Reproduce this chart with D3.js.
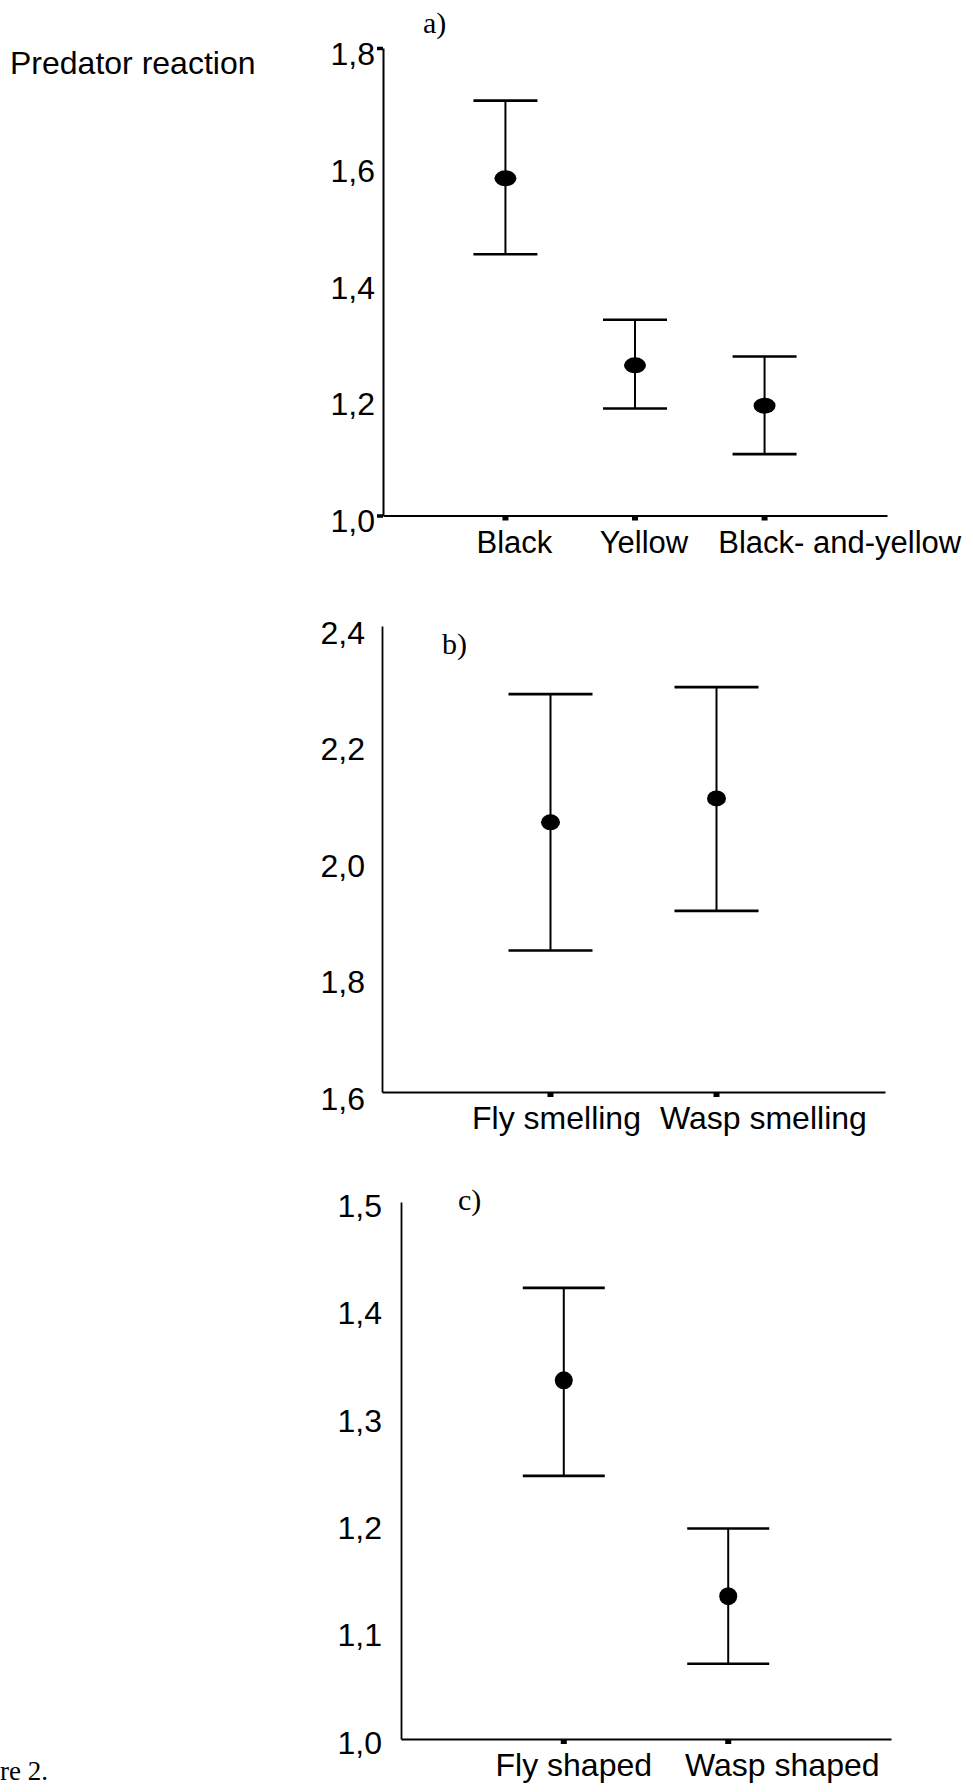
<!DOCTYPE html>
<html>
<head>
<meta charset="utf-8">
<script src="https://cdn.jsdelivr.net/npm/d3@7"></script>
<style>
  html, body { margin: 0; padding: 0; background: #fff; }
  svg { display: block; }
</style>
</head>
<body>
<div id="chart"></div>
<script>
// ---------- Data ----------
const panelACategories = ["Black", "Yellow", "Black- and-yellow"];
const panelAMean  = [1.577, 1.257, 1.188];
const panelALower = [1.447, 1.183, 1.105];
const panelAUpper = [1.710, 1.335, 1.272];
const panelATicks = [1.0, 1.2, 1.4, 1.6, 1.8];
const panelATickLabels = ["1,0", "1,2", "1,4", "1,6", "1,8"];

const panelBCategories = ["Fly smelling", "Wasp smelling"];
const panelBMean  = [2.063, 2.104];
const panelBLower = [1.843, 1.911];
const panelBUpper = [2.283, 2.295];
const panelBTicks = [1.6, 1.8, 2.0, 2.2, 2.4];
const panelBTickLabels = ["1,6", "1,8", "2,0", "2,2", "2,4"];

const panelCCategories = ["Fly shaped", "Wasp shaped"];
const panelCMean  = [1.334, 1.133];
const panelCLower = [1.245, 1.070];
const panelCUpper = [1.420, 1.196];
const panelCTicks = [1.0, 1.1, 1.2, 1.3, 1.4, 1.5];
const panelCTickLabels = ["1,0", "1,1", "1,2", "1,3", "1,4", "1,5"];

const yAxisTitle = "Predator reaction";
const panelLetters = ["a)", "b)", "c)"];
const footnote = "re 2.";

// ---------- Layout ----------
const W = 973, H = 1792;
const sans = "'Liberation Sans', Arial, Helvetica, sans-serif";
const serif = "'Liberation Serif', 'Times New Roman', Times, serif";

const svg = d3.select("#chart").append("svg")
  .attr("width", W).attr("height", H)
  .attr("viewBox", `0 0 ${W} ${H}`);

svg.append("rect").attr("width", W).attr("height", H).attr("fill", "#fff");

const panels = [
  { cats: panelACategories, mean: panelAMean, lo: panelALower, hi: panelAUpper,
    ticks: panelATicks, tickLabels: panelATickLabels,
    left: 383, right: 887, top: 48, bottom: 515.5, pad: 0.945,
    labelGap: 8, labelDy: 6, capHalf: 32, rx: 11, ry: 8, axisW: 2,
    letterX: 423, letterY: 33, endTicks: true, labelShift: 9, minGap: 30, catFont: 31 },
  { cats: panelBCategories, mean: panelBMean, lo: panelBLower, hi: panelBUpper,
    ticks: panelBTicks, tickLabels: panelBTickLabels,
    left: 382, right: 885, top: 626, bottom: 1092, pad: 1.015,
    labelGap: 17, labelDy: 7, capHalf: 42, rx: 9.5, ry: 8, axisW: 1.8,
    letterX: 442, letterY: 654, endTicks: false, labelShift: 6, minGap: 19, catFont: 32 },
  { cats: panelCCategories, mean: panelCMean, lo: panelCLower, hi: panelCUpper,
    ticks: panelCTicks, tickLabels: panelCTickLabels,
    left: 401, right: 891, top: 1202, bottom: 1739, pad: 0.99,
    labelGap: 19, labelDy: 4, capHalf: 41, rx: 9, ry: 9, axisW: 1.8,
    letterX: 458, letterY: 1210, endTicks: false, labelShift: 10, minGap: 33, catFont: 32 }
];

panels.forEach((p, pi) => {
  const g = svg.append("g");
  const y = d3.scaleLinear()
    .domain([p.ticks[0], p.ticks[p.ticks.length - 1]])
    .range([p.bottom, p.top]);
  const x = d3.scalePoint()
    .domain(p.cats)
    .range([p.left, p.right])
    .padding(p.pad);

  // Y axis with labels
  const yAxis = d3.axisLeft(y)
    .tickValues(p.ticks)
    .tickSize(0)
    .tickSizeOuter(0)
    .tickPadding(p.labelGap)
    .tickFormat((d, i) => p.tickLabels[i]);
  const ya = g.append("g")
    .attr("transform", `translate(${p.left},0)`)
    .call(yAxis);
  ya.select(".domain").attr("stroke", "#000").attr("stroke-width", p.axisW);
  ya.selectAll("text")
    .attr("font-family", sans).attr("font-size", 32).attr("fill", "#000")
    .attr("y", p.labelDy);

  if (p.endTicks) {
    const endAxis = d3.axisLeft(y)
      .tickValues([p.ticks[0], p.ticks[p.ticks.length - 1]])
      .tickSize(6).tickSizeOuter(0).tickFormat("");
    const ea = g.append("g").attr("transform", `translate(${p.left},0)`).call(endAxis);
    ea.select(".domain").remove();
    ea.selectAll("line").attr("stroke", "#000").attr("stroke-width", 3.5);
  }

  // X axis
  const xAxis = d3.axisBottom(x).tickSize(0).tickSizeOuter(0).tickFormat("");
  const xa = g.append("g")
    .attr("transform", `translate(0,${p.bottom})`)
    .call(xAxis);
  xa.select(".domain").attr("stroke", "#000").attr("stroke-width", p.axisW);

  // small square ticks under the x axis
  g.selectAll(".xt").data(p.cats).join("rect")
    .attr("x", d => x(d) - 3)
    .attr("y", p.bottom + 1)
    .attr("width", 6).attr("height", 4)
    .attr("fill", "#000");

  // category labels: centred on tick (slightly shifted), pushed right to avoid overlap
  const labels = g.selectAll(".cl").data(p.cats).join("text")
    .attr("font-family", sans).attr("font-size", p.catFont).attr("fill", "#000")
    .attr("y", p.bottom + 37)
    .text(d => d);
  let prevEnd = -Infinity;
  labels.each(function (d) {
    const w = this.getComputedTextLength();
    let start = x(d) + p.labelShift - w / 2;
    if (start < prevEnd + p.minGap) start = prevEnd + p.minGap;
    d3.select(this).attr("x", start);
    prevEnd = start + w;
  });

  // error bars
  const idx = d3.range(p.cats.length);
  g.selectAll(".vl").data(idx).join("line")
    .attr("x1", i => x(p.cats[i])).attr("x2", i => x(p.cats[i]))
    .attr("y1", i => y(p.hi[i])).attr("y2", i => y(p.lo[i]))
    .attr("stroke", "#000").attr("stroke-width", 2);
  g.selectAll(".capHi").data(idx).join("line")
    .attr("x1", i => x(p.cats[i]) - p.capHalf).attr("x2", i => x(p.cats[i]) + p.capHalf)
    .attr("y1", i => y(p.hi[i])).attr("y2", i => y(p.hi[i]))
    .attr("stroke", "#000").attr("stroke-width", 2.6);
  g.selectAll(".capLo").data(idx).join("line")
    .attr("x1", i => x(p.cats[i]) - p.capHalf).attr("x2", i => x(p.cats[i]) + p.capHalf)
    .attr("y1", i => y(p.lo[i])).attr("y2", i => y(p.lo[i]))
    .attr("stroke", "#000").attr("stroke-width", 2.6);
  g.selectAll(".dot").data(idx).join("ellipse")
    .attr("cx", i => x(p.cats[i]))
    .attr("cy", i => y(p.mean[i]))
    .attr("rx", p.rx).attr("ry", p.ry)
    .attr("fill", "#000");

  // panel letter
  g.append("text")
    .attr("x", p.letterX).attr("y", p.letterY)
    .attr("font-family", serif).attr("font-size", 30).attr("fill", "#000")
    .text(panelLetters[pi]);
});

// Y axis title
svg.append("text")
  .attr("x", 10).attr("y", 74)
  .attr("font-family", sans).attr("font-size", 32).attr("fill", "#000")
  .text(yAxisTitle);

// cropped figure caption
svg.append("text")
  .attr("x", 0).attr("y", 1780)
  .attr("font-family", serif).attr("font-size", 27).attr("fill", "#000")
  .text(footnote);
</script>
</body>
</html>
